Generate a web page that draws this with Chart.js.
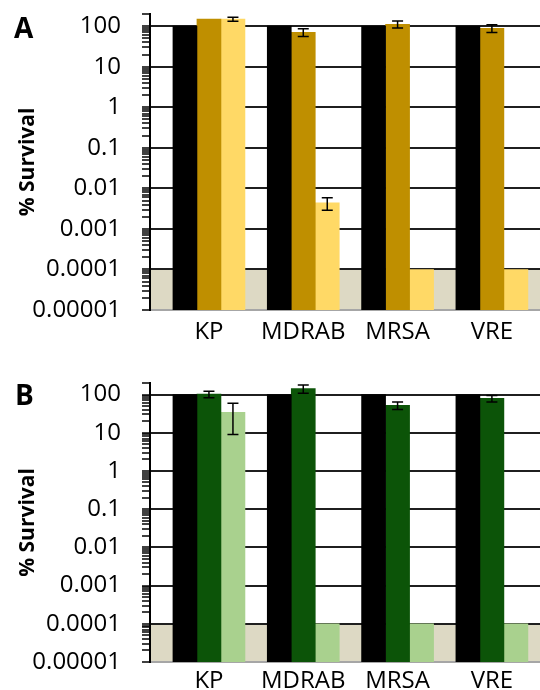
<!DOCTYPE html>
<html>
<head>
<meta charset="utf-8">
<script src="https://cdn.jsdelivr.net/npm/chart.js@4"></script>
<style>
  html, body { margin: 0; padding: 0; background: #fff; }
  #wrap { position: relative; width: 540px; height: 690px; overflow: hidden; }
  .panel { position: absolute; left: 0; width: 540px; height: 345px; }
  .letter { position: absolute; font: bold 28px/28px "Open Sans", sans-serif; color: #000; }
</style>
</head>
<body>
<div id="wrap">
  <div class="panel" style="top:0"><canvas id="chartA"></canvas></div>
  <div class="panel" style="top:345px"><canvas id="chartB"></canvas></div>
  <div class="letter" style="left:14px;top:13px">A</div>
  <div class="letter" style="left:15px;top:380px">B</div>
</div>
<script>
// categories and axis labels
const categories = ['KP', 'MDRAB', 'MRSA', 'VRE'];
const yTickLabels = ['0.00001', '0.0001', '0.001', '0.01', '0.1', '1', '10', '100'];
const yMin = 0.00001, yMax = 200;
const detectionLimit = 0.0001;

// panel A (% survival)
const controlA = [100, 100, 100, 100];
const goldA = [149, 71, 112, 89];
const goldErrA = [0, 15, 22, 19];
const yellowA = [149, 0.0044, 0.0001, 0.0001];
const yellowErrA = [17, 0.0015, 0, 0];

// panel B (% survival)
const controlB = [100, 100, 100, 100];
const darkGreenB = [102, 143, 52, 79];
const darkGreenErrB = [20, 35, 11.5, 15];
const lightGreenB = [34, 0.0001, 0.0001, 0.0001];
const lightGreenErrB = [25, 0, 0, 0];

const isDecade = v => Math.abs(Math.log10(v) - Math.round(Math.log10(v))) < 1e-6;

// shaded band below the detection limit
const bandPlugin = {
  id: 'band',
  beforeDraw(chart) {
    const { ctx, chartArea: a, scales: { y } } = chart;
    const top = y.getPixelForValue(detectionLimit);
    ctx.save();
    ctx.fillStyle = '#DDD9C4';
    ctx.fillRect(a.left, top, a.right - a.left, a.bottom - top);
    ctx.restore();
  }
};

const errorBarPlugin = {
  id: 'errorBars',
  afterDatasetsDraw(chart) {
    const { ctx, scales: { y } } = chart;
    ctx.save();
    ctx.strokeStyle = '#000';
    ctx.lineWidth = 1.5;
    chart.data.datasets.forEach((ds, di) => {
      if (!ds.errors) return;
      chart.getDatasetMeta(di).data.forEach((bar, i) => {
        const e = ds.errors[i];
        if (!e) return;
        const v = ds.data[i].y;
        const y1 = y.getPixelForValue(v + e), y2 = y.getPixelForValue(v - e);
        const x = bar.x;
        ctx.beginPath();
        ctx.moveTo(x, y1); ctx.lineTo(x, y2);
        ctx.moveTo(x - 5.5, y1); ctx.lineTo(x + 5.5, y1);
        ctx.moveTo(x - 5.5, y2); ctx.lineTo(x + 5.5, y2);
        ctx.stroke();
      });
    });
    ctx.restore();
  }
};

function makeChart(id, series, errs, colors, topPad, xAxisHeight, xLabelPad) {
  return new Chart(document.getElementById(id), {
    type: 'bar',
    data: {
      datasets: series.map((s, k) => ({
        data: categories.map((c, i) => ({ x: i, y: s[i] })),
        errors: errs[k],
        backgroundColor: colors[k],
        borderWidth: 0,
        barThickness: 24
      }))
    },
    options: {
      responsive: true, maintainAspectRatio: false, animation: false,
      layout: { padding: { top: topPad, left: 0, right: 0, bottom: 0 } },
      plugins: { legend: { display: false }, tooltip: { enabled: false } },
      scales: {
        x: {
          type: 'linear', min: -0.625, max: 3.51, offset: false,
          grid: { display: false, offset: false },
          border: { color: '#a6a6a6', width: 2 },
          afterBuildTicks: s => { s.ticks = categories.map((c, i) => ({ value: i })); },
          afterFit: s => { s.height = xAxisHeight; s.paddingLeft = 0; s.paddingRight = 0; },
          ticks: {
            callback: v => categories[v], color: '#000', autoSkip: false, maxRotation: 0,
            padding: xLabelPad, font: { family: 'Open Sans', size: 24 }
          }
        },
        y: {
          type: 'logarithmic', min: yMin, max: yMax,
          border: { color: '#000', width: 2 },
          grid: {
            color: c => (c.tick && isDecade(c.tick.value)) ? '#1f1f1f' : 'rgba(0,0,0,0)',
            lineWidth: 2, tickColor: '#000', tickLength: 8, tickWidth: 1.5
          },
          afterBuildTicks: s => {
            s.ticks = s.ticks.filter(t => {
              const m = t.value / Math.pow(10, Math.floor(Math.log10(t.value) + 1e-9));
              return Math.abs(m - Math.round(m)) < 1e-6;
            });
          },
          afterFit: s => { s.width = 150; s.paddingTop = 0; s.paddingBottom = 0; },
          ticks: {
            autoSkip: false, padding: 21, color: '#000',
            font: { family: 'Open Sans', size: 24 },
            callback: v => isDecade(v) ? yTickLabels[Math.round(Math.log10(v)) + 5] : ''
          },
          title: {
            display: true, text: '% Survival', color: '#000',
            font: { family: 'Open Sans', size: 21, weight: 'bold' },
            padding: { top: 15, bottom: 0 }
          }
        }
      }
    },
    plugins: [bandPlugin, errorBarPlugin]
  });
}

makeChart('chartA', [controlA, goldA, yellowA], [null, goldErrA, yellowErrA],
  ['#000000', '#BF8F00', '#FFD966'], 14, 35, 0);
makeChart('chartB', [controlB, darkGreenB, lightGreenB], [null, darkGreenErrB, lightGreenErrB],
  ['#000000', '#0C5408', '#A9D18E'], 38, 28, -3);
</script>
</body>
</html>
